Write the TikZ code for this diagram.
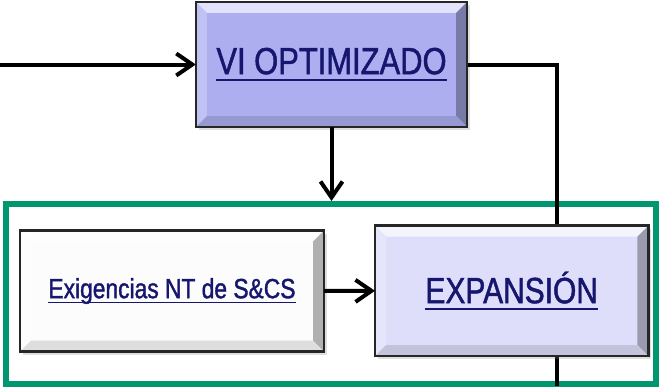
\documentclass[tikz,border=0pt]{standalone}
\usepackage{fontspec}
\setmainfont{Liberation Sans}
\newfontfamily\narrowfont{Liberation Sans}[FakeStretch=0.82,FakeBold=1.3]
\usetikzlibrary{calc,arrows.meta,shadows}
\definecolor{txtnavy}{RGB}{22,22,110}
\definecolor{vifill}{RGB}{172,174,240}
\definecolor{expfill}{RGB}{222,222,250}
\definecolor{exgfill}{RGB}{252,252,252}
\definecolor{framegreen}{RGB}{0,150,112}
\newcommand{\ulx}[1]{\setbox0\hbox{#1}\rlap{\rule[-0.19em]{\wd0}{0.07em}}\box0}
\newcommand{\bevelbox}[2]{%
  \fill[white!65!#2] (#1.north west) -- (#1.north east) -- ($(#1.north east)+(-11,11)$) -- ($(#1.north west)+(11,11)$) -- cycle;
  \fill[white!25!#2] (#1.north west) -- ($(#1.north west)+(11,11)$) -- ($(#1.south west)+(11,-11)$) -- (#1.south west) -- cycle;
  \fill[black!30!#2] (#1.north east) -- (#1.south east) -- ($(#1.south east)+(-11,-11)$) -- ($(#1.north east)+(-11,11)$) -- cycle;
  \fill[black!12!#2] (#1.south west) -- (#1.south east) -- ($(#1.south east)+(-11,-11)$) -- ($(#1.south west)+(11,-11)$) -- cycle;
  \draw[line width=2.5pt,black!85] (#1.north west) rectangle (#1.south east);
}
\tikzset{
  boxbase/.style={rectangle, inner sep=0pt, text=txtnavy, font=\narrowfont,
    drop shadow={shadow xshift=3pt, shadow yshift=-3pt, opacity=0.25}},
  conn/.style={line width=4pt, black},
  arr/.style={conn, -{Straight Barb[length=16pt,width=22pt]}},
  frm/.style={draw=framegreen, line width=6pt}
}
\begin{document}
\begin{tikzpicture}[x=1pt,y=-1pt]
\useasboundingbox (0,0) rectangle (659,386);
% frame
\draw[frm] (6,203.5) rectangle (656,383.5);
% nodes
\node[boxbase, fill=vifill, minimum width=271pt, minimum height=125pt] (vi) at (331.5,64.5) {};
\coordinate (inl) at (0,64.5);
\coordinate (rtop) at (557,64.5);
\coordinate (rbot) at (557,386);
\draw[conn] (vi.east) -- (rtop) -- (rbot);
\node[boxbase, fill=exgfill, minimum width=304pt, minimum height=121pt] (exg) at (172,291) {};
\node[boxbase, fill=expfill, minimum width=273pt, minimum height=130pt] (exp) at (511.7,290.8) {};
\bevelbox{vi}{vifill}
\bevelbox{exg}{exgfill}
\bevelbox{exp}{expfill}
\node[inner sep=0pt, text=txtnavy, font=\narrowfont\fontsize{37.7}{40}\selectfont] (vit) at (vi.center) {\ulx{VI OPTIMIZADO}};
\node[inner sep=0pt, text=txtnavy, font=\narrowfont\fontsize{27.8}{30}\selectfont] (exgt) at (exg.center) {\ulx{Exigencias NT de S\&CS}};
\node[inner sep=0pt, text=txtnavy, font=\narrowfont\fontsize{36.5}{39}\selectfont] (expt) at (exp.center) {\ulx{EXPANSIÓN}};
\coordinate (frametop) at (331.5,201);
\draw[arr] (inl) -- (vi.west);
\draw[arr] (vi.south) -- (frametop);
\draw[arr] (exg.east) -- (exp.west);
\end{tikzpicture}
\end{document}
